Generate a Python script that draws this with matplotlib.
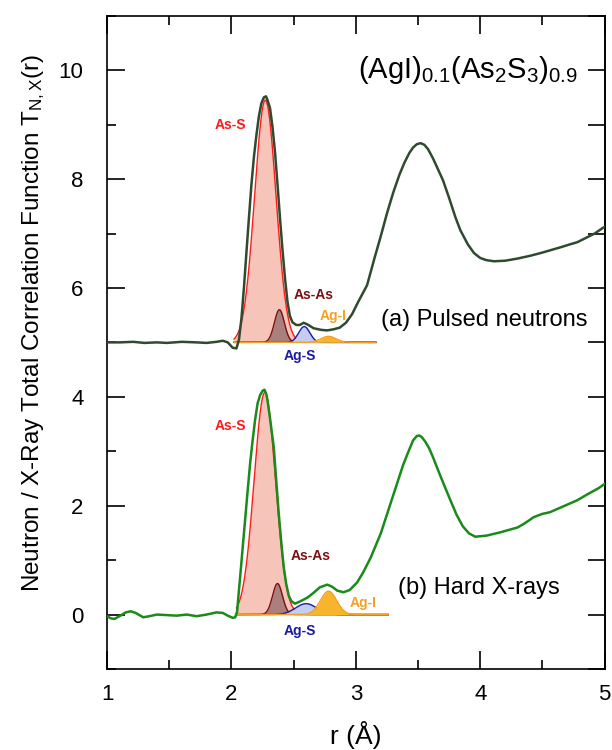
import numpy as np
import matplotlib
matplotlib.use('Agg')
import matplotlib.pyplot as plt
from matplotlib.ticker import MultipleLocator

plt.rcParams['font.family'] = ['Liberation Sans', 'DejaVu Sans']
plt.rcParams['mathtext.fontset'] = 'custom'
plt.rcParams['mathtext.rm'] = 'Liberation Sans'
plt.rcParams['mathtext.it'] = 'Liberation Sans'
plt.rcParams['lines.solid_joinstyle'] = 'round'

# (a) pulsed neutrons, shifted by +5
r_n = [1.00, 1.10, 1.21, 1.30, 1.40, 1.48, 1.60, 1.72, 1.80, 1.88, 1.93, 1.97,
       2.01, 2.04, 2.06, 2.08, 2.10, 2.12, 2.14, 2.16, 2.18, 2.20, 2.22, 2.24,
       2.26, 2.277, 2.29, 2.31, 2.33, 2.35, 2.37, 2.39, 2.41, 2.43, 2.45, 2.47,
       2.49, 2.52, 2.55, 2.58, 2.61, 2.66, 2.72, 2.77, 2.82, 2.87, 2.92, 2.97,
       3.02, 3.09, 3.15, 3.20, 3.25, 3.30, 3.35, 3.39, 3.43, 3.46, 3.49, 3.52,
       3.55, 3.58, 3.62, 3.66, 3.70, 3.75, 3.80, 3.84, 3.90, 3.95, 4.00, 4.05,
       4.11, 4.20, 4.30, 4.40, 4.50, 4.56, 4.65, 4.72, 4.78, 4.85, 4.92, 4.99, 5.00]
t_n = [5.00, 5.00, 5.01, 4.99, 5.00, 4.99, 5.01, 5.00, 4.99, 5.01, 5.03, 5.00,
       4.90, 4.89, 5.05, 5.44, 6.00, 6.65, 7.28, 7.89, 8.40, 8.80, 9.15, 9.39,
       9.50, 9.52, 9.45, 9.30, 8.95, 8.49, 7.90, 7.28, 6.70, 6.18, 5.75, 5.48,
       5.37, 5.32, 5.32, 5.36, 5.33, 5.26, 5.23, 5.22, 5.24, 5.27, 5.36, 5.52,
       5.75, 6.05, 6.55, 6.95, 7.37, 7.75, 8.08, 8.30, 8.48, 8.58, 8.64, 8.66,
       8.63, 8.55, 8.38, 8.18, 7.98, 7.65, 7.30, 7.06, 6.80, 6.64, 6.55, 6.51,
       6.49, 6.50, 6.54, 6.59, 6.65, 6.69, 6.75, 6.80, 6.84, 6.92, 7.00, 7.11, 7.12]

# (b) hard X-rays
r_x = [1.00, 1.03, 1.06, 1.10, 1.15, 1.19, 1.23, 1.29, 1.34, 1.40, 1.48, 1.56,
       1.64, 1.72, 1.80, 1.88, 1.93, 1.97, 2.01, 2.03, 2.045, 2.06, 2.07, 2.09,
       2.11, 2.13, 2.15, 2.17, 2.19, 2.21, 2.23, 2.25, 2.265, 2.28, 2.29, 2.31,
       2.34, 2.36, 2.38, 2.40, 2.42, 2.44, 2.46, 2.48, 2.51, 2.55, 2.61, 2.66,
       2.71, 2.77, 2.81, 2.85, 2.90, 2.95, 3.01, 3.06, 3.12, 3.20, 3.28, 3.33,
       3.38, 3.42, 3.46, 3.49, 3.51, 3.53, 3.56, 3.59, 3.62, 3.67, 3.72, 3.76,
       3.81, 3.86, 3.91, 3.96, 4.05, 4.16, 4.30, 4.36, 4.43, 4.50, 4.56, 4.65,
       4.72, 4.78, 4.87, 4.95, 5.00]
t_x = [-0.03, -0.07, -0.08, -0.03, 0.04, 0.06, 0.03, -0.05, -0.03, 0.00, -0.01, -0.02,
       0.00, -0.03, 0.00, 0.04, 0.03, -0.02, -0.06, -0.05, 0.05, 0.45, 0.70, 1.23,
       1.75, 2.28, 2.78, 3.20, 3.58, 3.88, 4.03, 4.11, 4.13, 4.05, 3.93, 3.60,
       3.07, 2.45, 1.85, 1.33, 0.87, 0.56, 0.35, 0.25, 0.20, 0.24, 0.31, 0.40,
       0.50, 0.55, 0.51, 0.44, 0.41, 0.45, 0.59, 0.78, 1.05, 1.49, 2.05, 2.40,
       2.75, 2.98, 3.20, 3.28, 3.29, 3.26, 3.17, 3.05, 2.89, 2.60, 2.32, 2.10,
       1.83, 1.62, 1.49, 1.43, 1.45, 1.51, 1.60, 1.68, 1.79, 1.85, 1.88, 1.97,
       2.04, 2.10, 2.22, 2.32, 2.40]

# fitted peaks: As-S, As-As, Ag-S, Ag-I
peak_names = ['As-S', 'As-As', 'Ag-S', 'Ag-I']
pos_n = [2.272, 2.385, 2.585, 2.78]
amp_n = [4.45, 0.60, 0.29, 0.11]
wid_n = [0.086, 0.040, 0.045, 0.060]
pos_x = [2.268, 2.37, 2.60, 2.78]
amp_x = [4.08, 0.57, 0.20, 0.43]
wid_x = [0.086, 0.040, 0.085, 0.065]
base_n = (2.02, 3.16, 5.0)
base_x = (2.04, 3.26, 0.0)

line_cols = ['#ff1a1a', '#7a1010', '#1a1aa0', '#f5a020']
fill_cols = ['#f6c4b8', '#a27878', '#c4ccf2', '#f7b52e']
fill_alpha = [1.0, 0.9, 1.0, 1.0]

fig = plt.figure(figsize=(6.12, 7.5), dpi=100)
ax = fig.add_axes([0.175, 0.108, 0.813, 0.871])

def draw_peaks(pos, amp, wid, base):
    r0, r1, y0 = base
    rr = np.linspace(r0, r1, 400)
    for k in range(len(pos)):
        g = y0 + amp[k] * np.exp(-0.5 * ((rr - pos[k]) / wid[k]) ** 2)
        ax.fill_between(rr, y0, g, color=fill_cols[k], alpha=fill_alpha[k], lw=0, zorder=2 + k * 0.1)
        ax.plot(rr, g, color=line_cols[k], lw=1.0, zorder=2.05 + k * 0.1)

draw_peaks(pos_n, amp_n, wid_n, base_n)
draw_peaks(pos_x, amp_x, wid_x, base_x)

ax.plot(r_n, t_n, color='#2f4a2f', lw=1.8, zorder=5)
ax.plot(r_x, t_x, color='#1a8a1a', lw=1.8, zorder=5)

lab_kw = dict(fontsize=10, fontweight='bold', ha='center', va='center')
# labels, neutron panel
ax.text(1.99, 9.0, 'As-S', color=line_cols[0], **lab_kw)
ax.text(2.66, 5.87, 'As-As', color=line_cols[1], **lab_kw)
ax.text(2.82, 5.48, 'Ag-I', color=line_cols[3], **lab_kw)
ax.text(2.55, 4.75, 'Ag-S', color=line_cols[2], **lab_kw)
# labels, x-ray panel
ax.text(1.99, 3.47, 'As-S', color=line_cols[0], **lab_kw)
ax.text(2.64, 1.08, 'As-As', color=line_cols[1], **lab_kw)
ax.text(3.06, 0.22, 'Ag-I', color=line_cols[3], **lab_kw)
ax.text(2.55, -0.30, 'Ag-S', color=line_cols[2], **lab_kw)

ax.text(3.9, 10.0, r'(AgI)$_{0.1}$(As$_2$S$_3$)$_{0.9}$', fontsize=21, ha='center', va='center')
ax.text(4.03, 5.42, '(a) Pulsed neutrons', fontsize=17, ha='center', va='center')
ax.text(3.99, 0.48, '(b) Hard X-rays', fontsize=17, ha='center', va='center')

ax.set_xlim(1, 5)
ax.set_ylim(-1, 11)
ax.xaxis.set_major_locator(MultipleLocator(1))
ax.xaxis.set_minor_locator(MultipleLocator(0.5))
ax.yaxis.set_major_locator(MultipleLocator(2))
ax.yaxis.set_minor_locator(MultipleLocator(1))
ax.tick_params(which='major', direction='in', length=13, width=1.2, labelsize=16,
               top=True, right=False, pad=11)
ax.tick_params(which='minor', direction='in', length=6.5, width=1.2, top=True, right=False)
ax.tick_params(axis='y', pad=17)

sec = ax.secondary_yaxis('right')
sec.yaxis.set_major_locator(MultipleLocator(1))
sec.tick_params(direction='in', length=12, width=1.2, labelright=False)
sec.spines['right'].set_linewidth(1.2)

for s in ax.spines.values():
    s.set_linewidth(1.2)

ax.set_xlabel('r (Å)', fontsize=19, labelpad=11)
ax.set_ylabel(r'Neutron / X-Ray Total Correlation Function T$_{\mathrm{N,X}}$(r)', fontsize=17.5)
ax.yaxis.set_label_coords(-0.12, 0.53)

fig.savefig('out.png', dpi=100)
